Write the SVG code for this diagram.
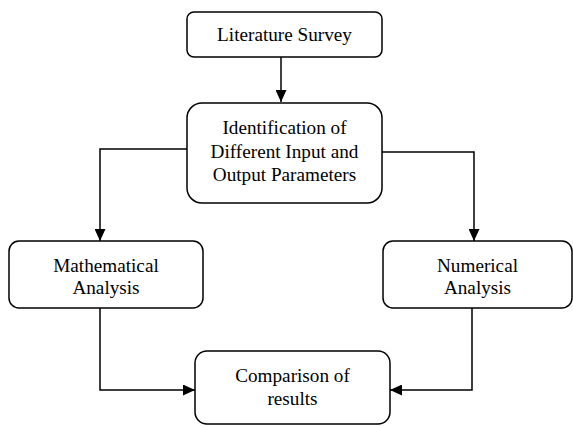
<svg xmlns="http://www.w3.org/2000/svg" width="573" height="426" viewBox="0 0 573 426">
  <style>
    .box { fill: #ffffff; stroke: #000000; stroke-width: 1.5; }
    .lbl { font-family: "Liberation Serif", "Times New Roman", serif; font-size: 19.2px; fill: #000000; text-anchor: middle; }
    .wire { fill: none; stroke: #000000; stroke-width: 1.5; }
  </style>
  <defs>
    <marker id="arrow" viewBox="0 0 12 11" refX="12" refY="5.5" markerWidth="12" markerHeight="11" markerUnits="userSpaceOnUse" orient="auto">
      <path d="M0,0 L12,5.5 L0,11 z" fill="#000000"/>
    </marker>
  </defs>
  <rect width="573" height="426" fill="#ffffff"/>

  <g id="connectors">
    <path class="wire" d="M281,57 V102" marker-end="url(#arrow)"/>
    <path class="wire" d="M187,149 H100 V241" marker-end="url(#arrow)"/>
    <path class="wire" d="M382,152 H474 V241" marker-end="url(#arrow)"/>
    <path class="wire" d="M100,308 V390 H195" marker-end="url(#arrow)"/>
    <path class="wire" d="M472,308 V390 H390" marker-end="url(#arrow)"/>
  </g>

  <g id="literature-survey">
    <rect class="box" x="187" y="12" width="195" height="45" rx="7"/>
    <text class="lbl" x="284.5" y="41">Literature Survey</text>
  </g>

  <g id="identification">
    <rect class="box" x="187" y="103" width="195" height="100" rx="15"/>
    <text class="lbl" x="284.5" y="134">Identification of</text>
    <text class="lbl" x="284.5" y="157.5">Different Input and</text>
    <text class="lbl" x="284.5" y="181">Output Parameters</text>
  </g>

  <g id="mathematical-analysis">
    <rect class="box" x="9" y="241" width="194" height="67" rx="10"/>
    <text class="lbl" x="106" y="272">Mathematical</text>
    <text class="lbl" x="106" y="294">Analysis</text>
  </g>

  <g id="numerical-analysis">
    <rect class="box" x="383" y="241" width="189" height="67" rx="10"/>
    <text class="lbl" x="477.5" y="272">Numerical</text>
    <text class="lbl" x="477.5" y="294">Analysis</text>
  </g>

  <g id="comparison">
    <rect class="box" x="195" y="351" width="195" height="73" rx="12"/>
    <text class="lbl" x="292.5" y="382">Comparison of</text>
    <text class="lbl" x="292.5" y="405">results</text>
  </g>
</svg>
